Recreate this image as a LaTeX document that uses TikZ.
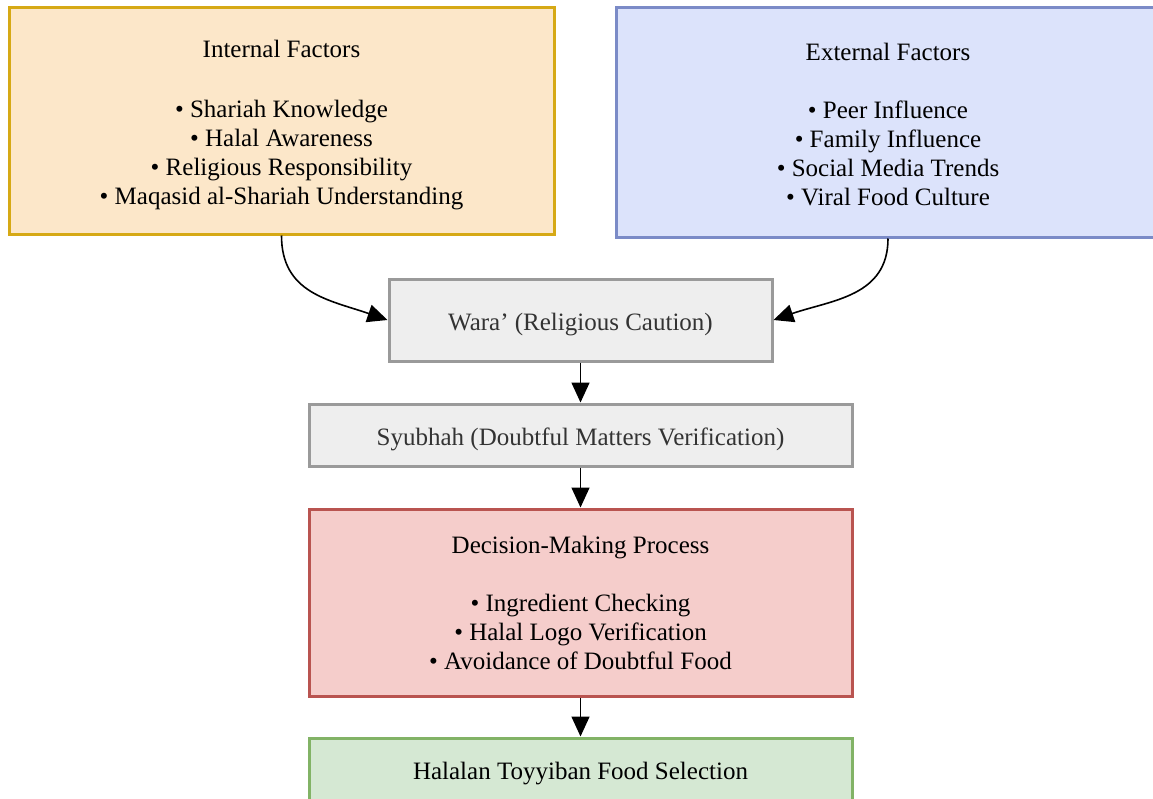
\documentclass[tikz,border=0pt]{standalone}
\usepackage{fontspec}
\setmainfont{Liberation Serif}
\usetikzlibrary{arrows.meta}
\definecolor{intfill}{HTML}{FCE7C9}
\definecolor{intdraw}{HTML}{D6A915}
\definecolor{extfill}{HTML}{DCE3FB}
\definecolor{extdraw}{HTML}{7B8BC7}
\definecolor{grayfill}{HTML}{EEEEEE}
\definecolor{graydraw}{HTML}{9A9A9A}
\definecolor{grytext}{HTML}{333333}
\definecolor{redfill}{HTML}{F5CDCB}
\definecolor{reddraw}{HTML}{B95450}
\definecolor{grnfill}{HTML}{D5E8D3}
\definecolor{grndraw}{HTML}{82B366}
\newcommand{\myhstrut}[1]{\rule{0pt}{#1}}
\begin{document}
\begin{tikzpicture}[x=1pt,y=-1pt,
  box/.style={draw, rectangle, line width=3pt, align=center, inner sep=0pt,
    font=\fontsize{25}{29}\selectfont},
  arr/.style={-{Triangle[length=20pt,width=18pt]}, line width=1.6pt, black}]
\useasboundingbox (0,0) rectangle (1153,798);
\clip (0,0) rectangle (1153,798);
\fill[white] (0,0) rectangle (1153,798);

\node[box, fill=intfill, draw=intdraw, minimum width=545pt, minimum height=227pt] (int) at (281.5,120.5)
  {\myhstrut{25.5pt}Internal Factors\\[31pt]• Shariah Knowledge\\• Halal Awareness\\• Religious Responsibility\\• Maqasid al-Shariah Understanding};
\node[box, fill=extfill, draw=extdraw, minimum width=544pt, minimum height=230pt] (ext) at (888,122)
  {\myhstrut{21.5pt}External Factors\\[29pt]• Peer Influence\\• Family Influence\\• Social Media Trends\\• Viral Food Culture};
\node[box, fill=grayfill, draw=graydraw, text=grytext, minimum width=383pt, minimum height=82pt] (wara) at (580.5,320)
  {\myhstrut{25.5pt}Wara’ (Religious Caution)};
\node[box, fill=grayfill, draw=graydraw, text=grytext, minimum width=543pt, minimum height=62pt] (syu) at (580.5,435)
  {\myhstrut{25.5pt}Syubhah (Doubtful Matters Verification)};
\node[box, fill=redfill, draw=reddraw, minimum width=543pt, minimum height=187pt] (dec) at (580.5,602.5)
  {\myhstrut{18pt}Decision-Making Process\\[29pt]• Ingredient Checking\\• Halal Logo Verification\\• Avoidance of Doubtful Food};
\node[box, fill=grnfill, draw=grndraw, minimum width=543pt, minimum height=66pt] (hal) at (580.5,771)
  {\myhstrut{22pt}Halalan Toyyiban Food Selection};

\draw[arr] (int.south) .. controls +(0,58) and +(-58,-20) .. (wara.west);
\draw[arr] (ext.south) .. controls +(0,58) and +(58,-20) .. (wara.east);
\draw[arr] (wara.south) -- (syu.north);
\draw[arr] (syu.south) -- (dec.north);
\draw[arr] (dec.south) -- (hal.north);
\end{tikzpicture}
\end{document}
